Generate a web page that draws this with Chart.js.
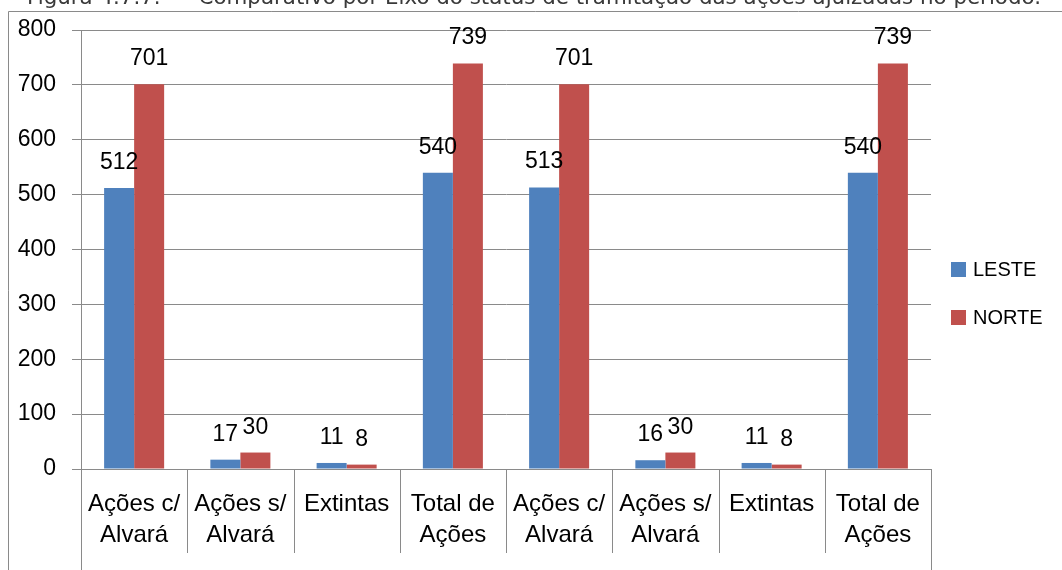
<!DOCTYPE html>
<html>
<head>
<meta charset="utf-8">
<script src="https://cdn.jsdelivr.net/npm/chart.js@4"></script>
<style>
  html, body { margin: 0; padding: 0; background: #fff; }
  canvas { display: block; }
</style>
</head>
<body>
<canvas id="chart" width="1062" height="570"></canvas>
<script>
// Categories (two axes repeated, as in the source figure)
const categories = [
    ['Ações c/', 'Alvará'],
    ['Ações s/', 'Alvará'],
    ['Extintas'],
    ['Total de', 'Ações'],
    ['Ações c/', 'Alvará'],
    ['Ações s/', 'Alvará'],
    ['Extintas'],
    ['Total de', 'Ações']
];
const leste = [512, 17, 11, 540, 513, 16, 11, 540];
const norte = [701, 30, 8, 739, 701, 30, 8, 739];
const seriesNames = ['LESTE', 'NORTE'];
const seriesColors = ['#4F81BD', '#C0504D'];
const yMax = 800;
const yStep = 100;
const titleText = 'Figura 4.7.7.  –  Comparativo por Eixo do status de tramitação das ações ajuizadas no período.';

const GRID = '#8a8a8a';
const FONT = "'Liberation Sans', Arial, sans-serif";

// Frame, title, category separators, value labels and legend
const decorations = {
    id: 'decorations',
    beforeDraw(chart) {
        const ctx = chart.ctx;
        ctx.save();
        // title, cut off by the top of the picture
        let size = 17;
        ctx.font = size + "px 'DejaVu Sans'";
        const w = ctx.measureText(titleText).width;
        size = size * 1014 / w;
        ctx.font = size.toFixed(2) + "px 'DejaVu Sans'";
        ctx.fillStyle = '#3a3a3a';
        ctx.textBaseline = 'alphabetic';
        ctx.fillText(titleText, 27, 4);
        // outer frame
        ctx.strokeStyle = GRID;
        ctx.lineWidth = 1;
        ctx.beginPath();
        ctx.moveTo(8.5, 570);
        ctx.lineTo(8.5, 11.5);
        ctx.lineTo(1062, 11.5);
        ctx.stroke();
        ctx.restore();
    },
    afterDraw(chart) {
        const ctx = chart.ctx;
        const area = chart.chartArea;
        const n = categories.length;
        const step = (area.right - area.left) / n;
        ctx.save();
        ctx.strokeStyle = GRID;
        ctx.lineWidth = 1;
        for (let i = 0; i <= n; i++) {
            const px = Math.round(area.left + i * step) + 0.5;
            const end = (i === 0 || i === n) ? 570 : 553;
            ctx.beginPath();
            ctx.moveTo(px, area.bottom);
            ctx.lineTo(px, end);
            ctx.stroke();
        }
        // value labels
        ctx.fillStyle = '#000';
        ctx.font = '23px ' + FONT;
        ctx.textAlign = 'center';
        ctx.textBaseline = 'alphabetic';
        chart.data.datasets.forEach((ds, di) => {
            chart.getDatasetMeta(di).data.forEach((bar, i) => {
                ctx.fillText(String(ds.data[i]), bar.x, bar.y - 19);
            });
        });
        // legend
        ctx.textAlign = 'left';
        ctx.textBaseline = 'middle';
        ctx.font = '20px ' + FONT;
        seriesNames.forEach((name, i) => {
            const top = 262 + i * 48;
            ctx.fillStyle = seriesColors[i];
            ctx.fillRect(951, top, 15, 15);
            ctx.fillStyle = '#000';
            ctx.fillText(name, 973, top + 8);
        });
        ctx.restore();
    }
};

new Chart(document.getElementById('chart'), {
    type: 'bar',
    data: {
        labels: categories,
        datasets: [
            { label: seriesNames[0], data: leste, backgroundColor: seriesColors[0] },
            { label: seriesNames[1], data: norte, backgroundColor: seriesColors[1] }
        ]
    },
    options: {
        responsive: false,
        animation: false,
        devicePixelRatio: 1,
        layout: { padding: { top: 30, right: 131, bottom: 0, left: 0 } },
        datasets: {
            bar: { categoryPercentage: 0.565, barPercentage: 1.0 }
        },
        plugins: {
            legend: { display: false },
            tooltip: { enabled: false }
        },
        scales: {
            x: {
                grid: { display: false },
                border: { display: false },
                ticks: {
                    color: '#000',
                    font: { family: FONT, size: 24, lineHeight: 1.3 },
                    padding: 12,
                    maxRotation: 0,
                    autoSkip: false
                },
                afterFit(scale) { scale.height = 101; }
            },
            y: {
                min: 0,
                max: yMax,
                ticks: {
                    stepSize: yStep,
                    color: '#000',
                    font: { family: FONT, size: 23 },
                    padding: 16
                },
                grid: { color: GRID, tickLength: 9, tickColor: GRID },
                border: { display: true, color: GRID },
                afterFit(scale) { scale.width = 81; }
            }
        }
    },
    plugins: [decorations]
});
</script>
</body>
</html>
